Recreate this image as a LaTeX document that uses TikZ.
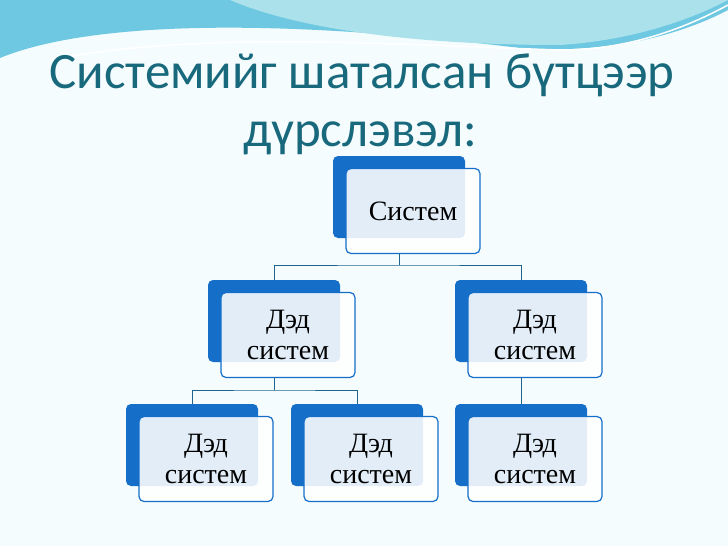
\documentclass[tikz,border=0pt]{standalone}
\usepackage{fontspec}
\setmainfont{Liberation Serif}
\newfontfamily\titlefont{Carlito}
\definecolor{boxblue}{RGB}{21,110,200}
\definecolor{linkblue}{RGB}{30,100,140}
\definecolor{titleteal}{RGB}{25,105,125}
\definecolor{waveA}{RGB}{110,200,225}
\definecolor{waveB}{RGB}{170,225,235}
\tikzset{
  backbox/.style={fill=boxblue, rounded corners=5pt, minimum width=132pt, minimum height=82pt, inner sep=0pt},
  frontbox/.style={draw=boxblue, line width=1.2pt, fill=white, fill opacity=0.88, text opacity=1,
    rounded corners=5pt, minimum width=134pt, minimum height=85pt, inner sep=0pt, align=center,
    font=\fontsize{28}{31}\selectfont},
  link/.style={draw=linkblue, line width=1pt}
}
\begin{document}
\begin{tikzpicture}[x=1pt,y=-1pt]
    \useasboundingbox (0,0) rectangle (728,546);
    \fill[white!96!cyan] (0,0) rectangle (728,546);

    % waves on top
    \fill[waveA] (0,0) -- (0,58) .. controls (80,25) and (250,15) .. (520,48)
        .. controls (620,55) and (690,30) .. (728,10) -- (728,0) -- cycle;
    \fill[waveB] (230,0) .. controls (300,30) and (420,45) .. (560,45)
        .. controls (640,40) and (700,15) .. (728,0) -- cycle;
    \draw[white, line width=1.5pt] (50,60) .. controls (200,30) and (400,45) .. (560,50)
        .. controls (640,50) and (700,20) .. (728,5);

    % title
    \node[font=\titlefont\fontsize{51}{55}\selectfont, text=titleteal] (title1) at (362,75) {Системийг шаталсан бүтцээр};
    \node[font=\titlefont\fontsize{51}{55}\selectfont, text=titleteal] (title2) at (360,138) {дүрслэвэл:};

    % boxes
    \foreach \n/\bx/\by/\txt in {top/399/197/Систем,
                                 midL/274/321/{Дэд\\систем}, midR/521/321/{Дэд\\систем},
                                 lowA/192/445/{Дэд\\систем}, lowB/357/445/{Дэд\\систем}, lowC/521/445/{Дэд\\систем}}{
        \node[backbox] (\n-back) at (\bx,\by) {};
        \node[frontbox] (\n) at (\bx+14,\by+14) {\txt};
    }

    % connectors
    \coordinate (jTop) at (399,265);
    \coordinate (jMid) at (274,390);
    \draw[link] (top.south -| jTop) -- (jTop);
    \draw[link] (midL-back.north) |- (jTop) -| (midR-back.north);
    \draw[link] (midL.south -| jMid) -- (jMid);
    \draw[link] (lowA-back.north) |- (jMid) -| (lowB-back.north);
    \draw[link] (midR.south -| midR-back.south) -- (lowC-back.north);
\end{tikzpicture}
\end{document}
